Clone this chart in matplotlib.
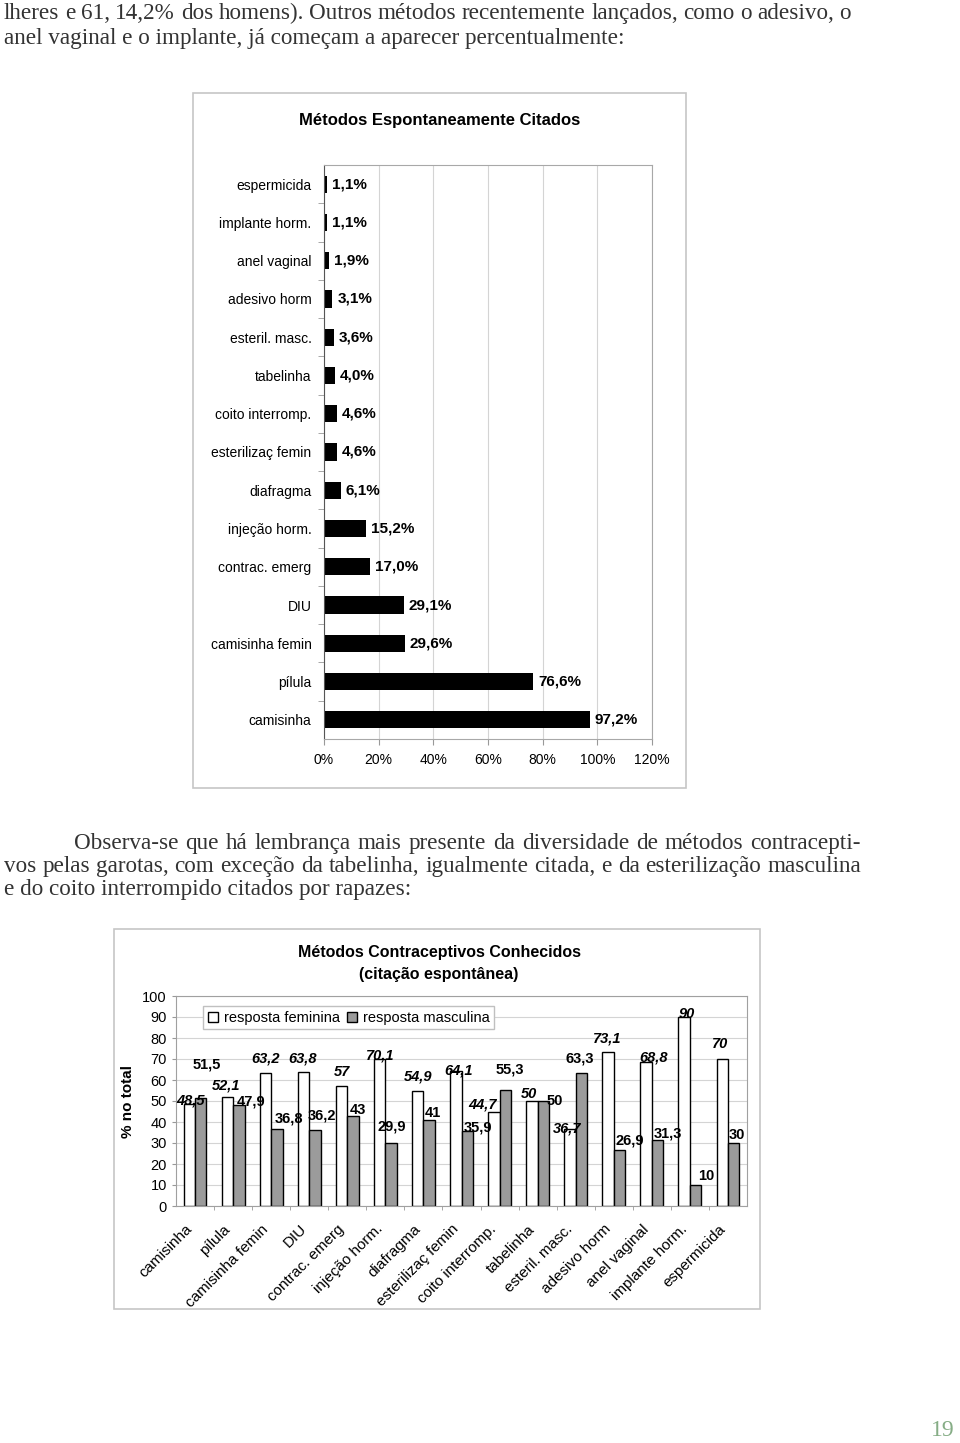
import matplotlib
matplotlib.use("Agg")
import matplotlib.pyplot as plt
from matplotlib.patches import Rectangle, Patch

W, H = 960, 1443

# categories shared by both charts (bottom -> top in first chart, left -> right in second)
metodos = ['camisinha', 'pílula', 'camisinha femin', 'DIU', 'contrac. emerg',
           'injeção horm.', 'diafragma', 'esterilizaç femin', 'coito interromp.',
           'tabelinha', 'esteril. masc.', 'adesivo horm', 'anel vaginal',
           'implante horm.', 'espermicida']
citados = [97.2, 76.6, 29.6, 29.1, 17.0, 15.2, 6.1, 4.6, 4.6, 4.0, 3.6, 3.1, 1.9, 1.1, 1.1]

feminina = [48.5, 52.1, 63.2, 63.8, 57, 70.1, 54.9, 64.1, 44.7, 50, 36.7, 73.1, 68.8, 90, 70]
masculina = [51.5, 47.9, 36.8, 36.2, 43, 29.9, 41, 35.9, 55.3, 50, 63.3, 26.9, 31.3, 10, 30]

# where the label sits relative to the bar top (pixels), as placed in the original
off_fem = [(1, 4), (-1, 11), (0, 15), (-1, 14), (0, 14), (1, 3), (0, 14), (3, 1),
           (-11, 8), (-3, 7), (-3, 0), (-1, 14), (7, 4), (3, 3), (-2, 15)]
off_mas = [(6, 33), (12, 4), (12, 10), (7, 14), (5, 6), (1, 17), (4, 7), (11, 3),
           (5, 20), (11, 0), (-2, 15), (10, 9), (10, 7), (11, 9), (3, 8)]

par1 = ["lheres e 61, 14,2% dos homens). Outros métodos recentemente lançados, como o adesivo, o",
        "anel vaginal e o implante, já começam a aparecer percentualmente:"]
par2 = ["Observa-se que há lembrança mais presente da diversidade de métodos contracepti-",
        "vos pelas garotas, com exceção da tabelinha, igualmente citada, e da esterilização masculina",
        "e do coito interrompido citados por rapazes:"]

plt.rcParams['font.family'] = ['Liberation Sans', 'DejaVu Sans']

fig = plt.figure(figsize=(W / 100, H / 100), dpi=100)
fig.patch.set_facecolor('white')


def fx(x):
    return x / W


def fy(y):
    return 1 - y / H


body = dict(family=['Liberation Serif', 'DejaVu Serif'], fontsize=16.7, color='#333333')


def line(text, x0, x1, y, justify):
    if not justify:
        fig.text(fx(x0), fy(y), text, va='baseline', ha='left', **body)
        return
    words = text.split(' ')
    arts = [fig.text(0, 0, w, va='baseline', ha='left', **body) for w in words]
    r = fig.canvas.get_renderer()
    ws = [a.get_window_extent(r).width for a in arts]
    gap = (x1 - x0 - sum(ws)) / (len(words) - 1)
    x = x0
    for a, w in zip(arts, ws):
        a.set_position((fx(x), fy(y)))
        x += w + gap


line(par1[0], 4, 851, 19, True)
line(par1[1], 4, 0, 44, False)
line(par2[0], 74, 861, 849, True)
line(par2[1], 4, 861, 872, True)
line(par2[2], 4, 0, 895, False)

fig.text(fx(955), fy(1436), '19', ha='right', va='baseline',
         family=['Liberation Serif', 'DejaVu Serif'], fontsize=17, color='#86ad86')

# chart frames
for (x0, y0, x1, y1) in [(193, 93, 686, 788), (114, 929, 760, 1309)]:
    fig.add_artist(Rectangle((fx(x0), fy(y1)), (x1 - x0) / W, (y1 - y0) / H,
                             transform=fig.transFigure, fill=False,
                             edgecolor='#c6c6c6', lw=1.2))

# ---- chart 1: horizontal bars
ax1 = fig.add_axes([fx(324), fy(739), (652 - 324) / W, (739 - 165) / H])
pos = list(range(len(metodos)))
ax1.barh(pos, citados, height=0.45, color='black')
for p, v in zip(pos, citados):
    ax1.annotate(f"{v:.1f}%".replace('.', ','), (v, p), xytext=(5, 0),
                 textcoords='offset pixels', ha='left', va='center',
                 fontsize=11, fontweight='bold')
ax1.set_xlim(0, 120)
ax1.set_ylim(-0.5, len(metodos) - 0.5)
ax1.set_xticks(range(0, 121, 20))
ax1.set_xticklabels([f"{t}%" for t in range(0, 121, 20)], fontsize=10)
ax1.set_yticks(pos)
ax1.set_yticklabels(metodos, fontsize=10)
ax1.set_yticks([p + 0.5 for p in pos[:-1]], minor=True)
ax1.tick_params(axis='y', which='major', length=0, pad=9)
ax1.tick_params(axis='y', which='minor', length=4, color='#999999')
ax1.tick_params(axis='x', length=4, color='#999999', pad=6)
ax1.grid(axis='x', color='#d4d4d4', lw=0.8)
ax1.set_axisbelow(True)
for s in ['top', 'right', 'bottom']:
    ax1.spines[s].set_color('#a8a8a8')
ax1.spines['left'].set_color('#555555')
fig.text(fx(440), fy(121), 'Métodos Espontaneamente Citados', ha='center', va='center',
         fontsize=12, fontweight='bold')

# ---- chart 2: grouped columns
ax2 = fig.add_axes([fx(176), fy(1206), (747 - 176) / W, (1206 - 996) / H])
bw = 0.3
xf = [i - bw / 2 for i in pos]
xm = [i + bw / 2 for i in pos]
ax2.bar(xf, feminina, width=bw, color='white', edgecolor='black', lw=1)
ax2.bar(xm, masculina, width=bw, color='#9b9b9b', edgecolor='black', lw=1)
for x, v, o in zip(xf, feminina, off_fem):
    ax2.annotate(f"{v:g}".replace('.', ','), (x, v), xytext=o, textcoords='offset pixels',
                 ha='center', va='center', fontsize=10.5, fontweight='bold', fontstyle='italic')
for x, v, o in zip(xm, masculina, off_mas):
    ax2.annotate(f"{v:g}".replace('.', ','), (x, v), xytext=o, textcoords='offset pixels',
                 ha='center', va='center', fontsize=10.5, fontweight='bold')
ax2.set_xlim(-0.5, len(metodos) - 0.5)
ax2.set_ylim(0, 100)
ax2.set_yticks(range(0, 101, 10))
ax2.tick_params(axis='y', labelsize=10.5, length=3, color='#999999')
ax2.set_xticks(pos)
ax2.set_xticklabels([])
for p, m in zip(pos, metodos):
    ax2.annotate(m, (p, 0), xytext=(-10, -16), textcoords='offset pixels',
                 rotation=45, ha='right', va='top', rotation_mode='anchor',
                 fontsize=11, annotation_clip=False)
ax2.set_xticks([p + 0.5 for p in pos[:-1]], minor=True)
ax2.tick_params(axis='x', which='major', length=0)
ax2.tick_params(axis='x', which='minor', length=3, color='#999999')
ax2.grid(axis='y', color='#d4d4d4', lw=0.8)
ax2.set_axisbelow(True)
for s in ax2.spines.values():
    s.set_color('#a0a0a0')
ax2.set_ylabel('% no total', fontsize=11, fontweight='bold', labelpad=5)
ax2.legend(handles=[Patch(facecolor='white', edgecolor='black', label='resposta feminina'),
                    Patch(facecolor='#9b9b9b', edgecolor='black', label='resposta masculina')],
           ncol=2, loc='upper left', bbox_to_anchor=(0.035, 0.985), fontsize=10.5,
           handlelength=0.7, handleheight=0.7, handletextpad=0.4, columnspacing=0.5,
           borderpad=0.3, fancybox=False, framealpha=1, edgecolor='#c0c0c0')
fig.text(fx(439), fy(953), 'Métodos Contraceptivos Conhecidos', ha='center', va='center',
         fontsize=11.5, fontweight='bold')
fig.text(fx(439), fy(975), '(citação espontânea)', ha='center', va='center',
         fontsize=11.5, fontweight='bold')

fig.savefig('out.png', dpi=100)
